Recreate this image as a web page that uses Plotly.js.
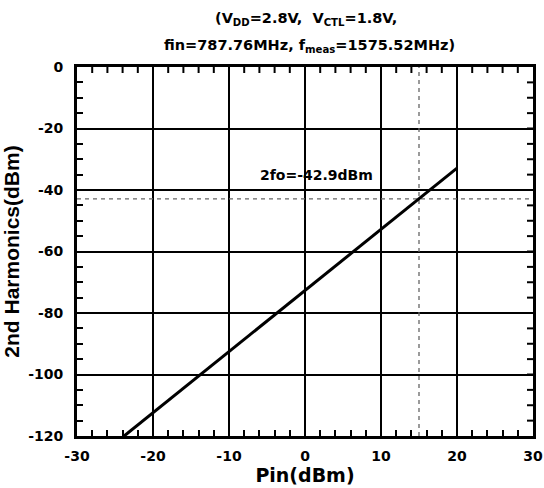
<!DOCTYPE html>
<html>
<head>
<meta charset="utf-8">
<script src="https://cdn.plot.ly/plotly-3.0.1.min.js"></script>
<style>html,body{margin:0;padding:0;background:#fff;}</style>
</head>
<body>
<div id="chart" style="width:544px;height:488px;"></div>
<script>
// Data
var pin = [-23.8, 20];
var harmonic2 = [-120, -32.9];
var markerPin = 15;
var markerLevel = -42.9;
var xTicks = [-30, -20, -10, 0, 10, 20, 30];
var yTicks = [0, -20, -40, -60, -80, -100, -120];
var titleLine1 = '(V<sub>DD</sub>=2.8V,  V<sub>CTL</sub>=1.8V,';
var titleLine2 = 'fin=787.76MHz, f<sub>meas</sub>=1575.52MHz)';
var noteText = '2fo=-42.9dBm';
var noteAt = [1.5, -35.1];
var xMinorStep = 2;
var yMinorStep = 5;
var xRange = [-30, 30];
var yRange = [-120, 0];

var wide = '"DejaVu Sans", Verdana, sans-serif';
var arial = 'Arial, "Liberation Sans", sans-serif';

var W = 544, H = 488, M = {l: 77, r: 11, t: 67, b: 52};
var tickPx = 6;
var xPerPx = (xRange[1] - xRange[0]) / (W - M.l - M.r);
var yPerPx = (yRange[1] - yRange[0]) / (H - M.t - M.b);

// mirrored minor ticks (top and right edges), drawn through the axes
var topX = [], topY = [], rightX = [], rightY = [];
for (var xv = xRange[0] + xMinorStep; xv < xRange[1] - 0.001; xv += xMinorStep) {
  topX.push(xv, xv, null); topY.push(yRange[1], yRange[1] - tickPx * yPerPx, null);
}
for (var yv = yRange[0] + yMinorStep; yv < yRange[1] - 0.001; yv += yMinorStep) {
  rightX.push(xRange[1], xRange[1] - tickPx * xPerPx, null); rightY.push(yv, yv, null);
}

var traces = [
  {type: 'scatter', x: [-30, 30], y: [markerLevel, markerLevel], mode: 'lines',
   line: {color: '#666', width: 1.3, dash: '4px,4px'}, hoverinfo: 'skip', showlegend: false},
  {type: 'scatter', x: [markerPin, markerPin], y: [-120, 0], mode: 'lines',
   line: {color: '#666', width: 1.3, dash: '4px,4px'}, hoverinfo: 'skip', showlegend: false},
  {type: 'scatter', x: topX, y: topY, mode: 'lines', connectgaps: false, cliponaxis: false,
   line: {color: '#000', width: 2}, hoverinfo: 'skip', showlegend: false},
  {type: 'scatter', x: rightX, y: rightY, mode: 'lines', connectgaps: false, cliponaxis: false,
   line: {color: '#000', width: 2}, hoverinfo: 'skip', showlegend: false},
  {type: 'scatter', x: pin, y: harmonic2, mode: 'lines',
   line: {color: '#000', width: 3}, showlegend: false}
];

var tickFont = {family: wide, size: 14, color: '#000', weight: 'bold'};

var axisCommon = {
  showline: true, linecolor: '#000', linewidth: 3, mirror: true,
  ticks: 'inside', ticklen: 6, tickwidth: 2, tickcolor: '#000',
  showgrid: true, gridcolor: '#000', gridwidth: 2, zeroline: false,
  tickfont: tickFont
};

var layout = {
  width: W, height: H,
  margin: M,
  paper_bgcolor: '#fff', plot_bgcolor: '#fff',
  showlegend: false,
  xaxis: Object.assign({}, axisCommon, {
    range: xRange, tickvals: xTicks, ticktext: xTicks.map(String), ticklabelstandoff: 5,
    minor: {dtick: xMinorStep, ticks: 'inside', ticklen: 6, tickwidth: 2, tickcolor: '#000', showgrid: false},
    title: {text: 'Pin(dBm)', font: {family: wide, size: 19, color: '#000', weight: 'bold'}, standoff: 6}
  }),
  yaxis: Object.assign({}, axisCommon, {
    range: yRange, tickvals: yTicks, ticktext: yTicks.map(String), ticklabelstandoff: 8,
    minor: {dtick: yMinorStep, ticks: 'inside', ticklen: 6, tickwidth: 2, tickcolor: '#000', showgrid: false},
    title: {text: '2nd Harmonics(dBm)', font: {family: arial, size: 21, color: '#000', weight: 'bold'}, standoff: 3}
  }),
  annotations: [
    {text: titleLine1, xref: 'paper', yref: 'paper', x: 0.5, y: 1.0, xshift: 1, yshift: 48,
     yanchor: 'middle', showarrow: false, font: {family: wide, size: 14.5, color: '#000', weight: 'bold'}},
    {text: titleLine2, xref: 'paper', yref: 'paper', x: 0.5, y: 1.0, xshift: 4, yshift: 21,
     yanchor: 'middle', showarrow: false, font: {family: wide, size: 14.5, color: '#000', weight: 'bold'}},
    {text: noteText, xref: 'x', yref: 'y', x: noteAt[0], y: noteAt[1], showarrow: false,
     font: {family: wide, size: 14, color: '#000', weight: 'bold'}}
  ]
};

Plotly.newPlot('chart', traces, layout, {displayModeBar: false, staticPlot: true});
</script>
</body>
</html>
